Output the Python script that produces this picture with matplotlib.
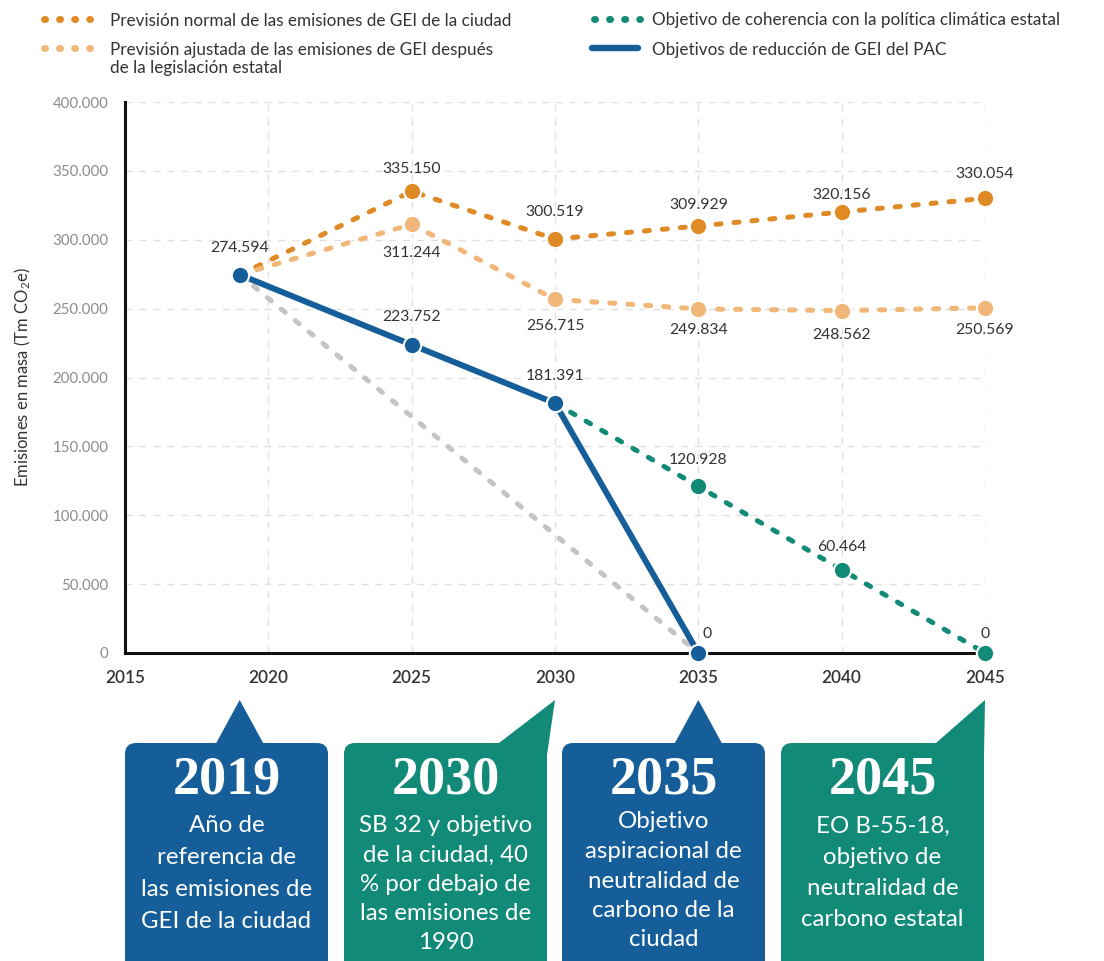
import matplotlib
matplotlib.use("Agg")
import matplotlib.pyplot as plt
from matplotlib.lines import Line2D
from matplotlib.patches import FancyBboxPatch, Polygon

plt.rcParams['font.family'] = ['Lato', 'DejaVu Sans']
plt.rcParams['mathtext.fontset'] = 'custom'
plt.rcParams['mathtext.rm'] = 'Lato'
plt.rcParams['mathtext.it'] = 'Lato'

# ---------------- data ----------------
years_normal = [2019, 2025, 2030, 2035, 2040, 2045]
normal = [274594, 335150, 300519, 309929, 320156, 330054]
years_adj = [2019, 2025, 2030, 2035, 2040, 2045]
adjusted = [274594, 311244, 256715, 249834, 248562, 250569]
years_pac = [2019, 2025, 2030, 2035]
pac = [274594, 223752, 181391, 0]
years_state = [2030, 2035, 2040, 2045]
state = [181391, 120928, 60464, 0]
years_linear = [2019, 2035]
linear = [274594, 0]

legend_labels = [
    ["Previsión normal de las emisiones de GEI de la ciudad"],
    ["Previsión ajustada de las emisiones de GEI después", "de la legislación estatal"],
    ["Objetivo de coherencia con la política climática estatal"],
    ["Objetivos de reducción de GEI del PAC"],
]
yticks = [0, 50000, 100000, 150000, 200000, 250000, 300000, 350000, 400000]
xticks = [2015, 2020, 2025, 2030, 2035, 2040, 2045]

callout_years = [2019, 2030, 2035, 2045]
callout_titles = ["2019", "2030", "2035", "2045"]
callout_texts = [
    ["Año de", "referencia de", "las emisiones de", "GEI de la ciudad"],
    ["SB 32 y objetivo", "de la ciudad, 40", "% por debajo de", "las emisiones de", "1990"],
    ["Objetivo", "aspiracional de", "neutralidad de", "carbono de la", "ciudad"],
    ["EO B-55-18,", "objetivo de", "neutralidad de", "carbono estatal"],
]

C_ORANGE = "#E08A26"
C_LORANGE = "#F0B778"
C_BLUE = "#155E99"
C_TEAL = "#128A78"
C_GRAY = "#C4C4C4"
C_TEXT = "#333333"

W, H = 1104, 961
fig = plt.figure(figsize=(W / 100, H / 100), dpi=100)
ax = fig.add_axes([125 / W, 1 - 653 / H, (985 - 125) / W, (653 - 102) / H])

dash = (0, (1.0, 2.6))
ax.plot(years_linear, linear, color=C_GRAY, lw=3.6, ls=dash, dash_capstyle='round', zorder=2)
ax.plot(years_normal, normal, color=C_ORANGE, lw=3.6, ls=dash, dash_capstyle='round', zorder=3)
ax.plot(years_normal[1:], normal[1:], ls='none', marker='o', ms=12.5, mfc=C_ORANGE,
        mec='white', mew=1.5, zorder=4, clip_on=False)
ax.plot(years_adj, adjusted, color=C_LORANGE, lw=3.6, ls=dash, dash_capstyle='round', zorder=3)
ax.plot(years_adj[1:], adjusted[1:], ls='none', marker='o', ms=12.5, mfc=C_LORANGE,
        mec='white', mew=1.5, zorder=4, clip_on=False)
ax.plot(years_state, state, color=C_TEAL, lw=3.6, ls=dash, dash_capstyle='round', zorder=5, clip_on=False)
ax.plot(years_state[1:], state[1:], ls='none', marker='o', ms=12.5, mfc=C_TEAL,
        mec='white', mew=1.5, zorder=6, clip_on=False)
ax.plot(years_pac, pac, color=C_BLUE, lw=4.3, solid_capstyle='round', zorder=7, clip_on=False)
ax.plot(years_pac, pac, ls='none', marker='o', ms=12.5, mfc=C_BLUE,
        mec='white', mew=1.5, zorder=8, clip_on=False)

def fmt(v):
    return f"{v:,}".replace(",", ".")

def lab(x, y, dy, dx=0):
    ax.annotate(fmt(y), (x, y), xytext=(dx, dy), textcoords='offset points',
                ha='center', va='center', fontsize=11.3, color=C_TEXT, zorder=10,
                annotation_clip=False)

lab(2019, 274594, 19.5)
lab(2025, 335150, 16)
lab(2030, 300519, 19.5)
lab(2035, 309929, 15.5)
lab(2040, 320156, 12.5)
lab(2045, 330054, 17.5)
lab(2025, 311244, -21)
lab(2030, 256715, -19)
lab(2035, 249834, -15)
lab(2040, 248562, -17.5)
lab(2045, 250569, -16)
lab(2025, 223752, 20)
lab(2030, 181391, 19.5)
lab(2035, 120928, 19)
lab(2040, 60464, 16)
lab(2035, 0, 14, dx=6)
lab(2045, 0, 14)

ax.set_xlim(2015, 2045)
ax.set_ylim(0, 400000)
ax.set_xticks(xticks)
ax.set_yticks(yticks)
ax.set_yticklabels([fmt(v) for v in yticks], fontsize=10.8, color="#8C8C8C")
ax.set_xticklabels([str(v) for v in xticks], fontsize=12.3, color=C_TEXT, fontweight='semibold')
ax.tick_params(axis='x', length=0, pad=12)
ax.tick_params(axis='y', length=0, pad=12)
ax.grid(True, color="#E0E0E0", ls=(0, (5, 5)), lw=1)
for s in ('top', 'right'):
    ax.spines[s].set_visible(False)
for s in ('left', 'bottom'):
    ax.spines[s].set_linewidth(2.2)
    ax.spines[s].set_color("#111111")
ax.set_ylabel("Emisiones en masa (Tm CO$_2$e)", fontsize=12, color=C_TEXT, labelpad=14)

# ---------------- overlay (pixel coords) ----------------
ov = fig.add_axes([0, 0, 1, 1], zorder=5)
ov.set_xlim(0, W)
ov.set_ylim(H, 0)
ov.axis('off')
ov.patch.set_alpha(0)

# legend
ldash = (0, (0.15, 2.02))
handle_specs = [
    (44, 90, 19, C_ORANGE, ldash, 110),
    (44, 90, 48, C_LORANGE, ldash, 110),
    (594, 640, 19, C_TEAL, ldash, 652),
    (592, 638, 48, C_BLUE, '-', 652),
]
for (x0, x1, yy, col, ls, tx), lines in zip(handle_specs, legend_labels):
    ov.add_line(Line2D([x0, x1], [yy, yy], color=col, lw=4.6 if ls == '-' else 5.0, ls=ls,
                       dash_capstyle='round', solid_capstyle='round'))
    for k, t in enumerate(lines):
        ov.text(tx, yy + 19 * k, t, ha='left', va='center_baseline', fontsize=12.3, color=C_TEXT)

# callouts
fig.canvas.draw()
def year_px(yr):
    return ax.transData.transform((yr, 0))[0]

box_x = [(125, 328), (344, 547), (562, 765), (781, 984)]
box_col = [C_BLUE, C_TEAL, C_BLUE, C_TEAL]
first_line = [826, 826, 822, 826]
line_gap = [31.8, 29.2, 29.5, 31.2]
top, tip_y = 743, 700
for i, yr in enumerate(callout_years):
    x0, x1 = box_x[i]
    col = box_col[i]
    ov.add_patch(FancyBboxPatch((x0, top), x1 - x0, 260, boxstyle="round,pad=0,rounding_size=11",
                                fc=col, ec='none'))
    tx = year_px(yr)
    if i in (0, 2):
        pts = [(tx, tip_y), (tx - 24, top + 1), (tx + 24, top + 1)]
    else:
        pts = [(tx, tip_y), (x1 - 48, top), (x1 - 48, top + 22), (x1, top + 22), (x1, top + 12)]
    ov.add_patch(Polygon(pts, closed=True, fc=col, ec='none'))
    cx = (x0 + x1) / 2
    ov.text(cx, 781, callout_titles[i], ha='center', va='center', fontsize=39, fontweight='bold',
            color='white', family='Liberation Serif')
    for k, t in enumerate(callout_texts[i]):
        ov.text(cx, first_line[i] + k * line_gap[i], t, ha='center', va='center',
                fontsize=17.3, color='white')

fig.savefig("out.png", dpi=100)
